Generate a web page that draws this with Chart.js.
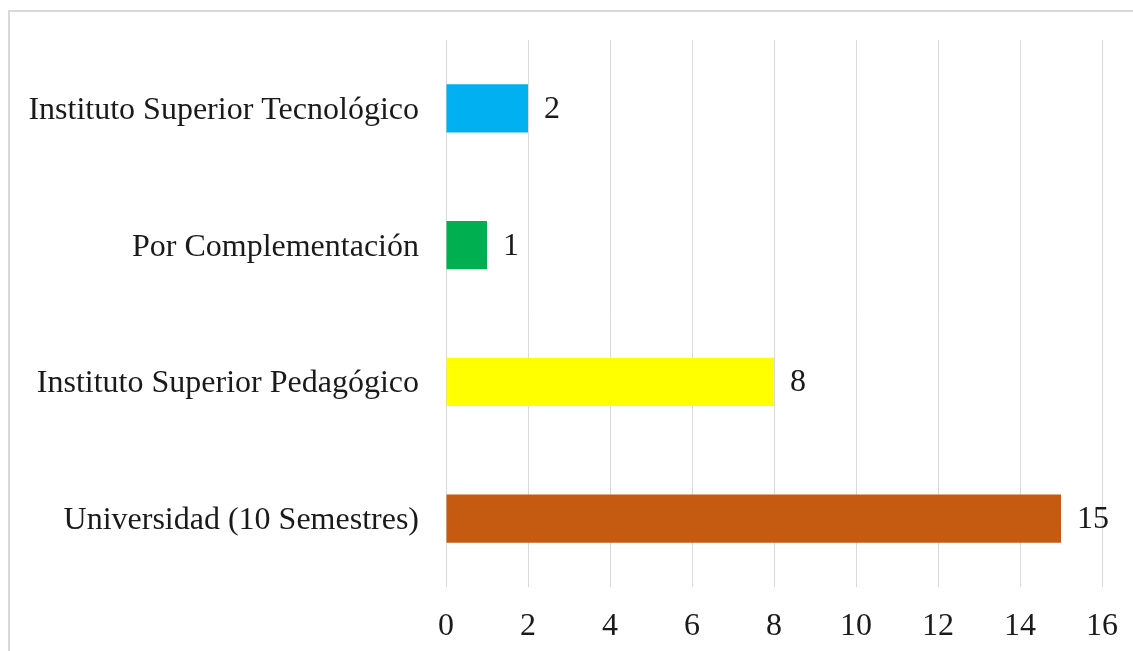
<!DOCTYPE html>
<html>
<head>
<meta charset="utf-8">
<script src="https://cdn.jsdelivr.net/npm/chart.js@4.4.0/dist/chart.umd.min.js"></script>
<style>
  html, body { margin: 0; padding: 0; background: #ffffff; overflow: hidden; }
  #wrap { position: relative; width: 1133px; height: 651px; }
  #frame { position: absolute; left: 8px; top: 10px; width: 1200px; height: 800px; border: 2px solid #d9d9d9; box-sizing: border-box; }
  #c { position: absolute; left: 0; top: 0; }
</style>
</head>
<body>
<div id="wrap">
  <div id="frame"></div>
  <canvas id="c" width="1133" height="651"></canvas>
</div>
<script>
const categories = ["Instituto Superior Tecnológico", "Por Complementación", "Instituto Superior Pedagógico", "Universidad (10 Semestres)"];
const values = [2, 1, 8, 15];
const barColors = ["#00B0F0", "#00B050", "#FFFF00", "#C55A11"];
const xTicks = [0, 2, 4, 6, 8, 10, 12, 14, 16];

const FONT = "'Liberation Serif', 'Times New Roman', serif";
const FSIZE = 32;

const valueLabels = {
  id: 'valueLabels',
  afterDatasetsDraw(chart) {
    const ctx = chart.ctx;
    const meta = chart.getDatasetMeta(0);
    ctx.save();
    ctx.font = FSIZE + "px " + FONT;
    ctx.fillStyle = "#1a1a1a";
    ctx.textAlign = "left";
    ctx.textBaseline = "middle";
    meta.data.forEach((bar, i) => {
      ctx.fillText(String(values[i]), bar.x + 16, bar.y + 1);
    });
    ctx.restore();
  }
};

new Chart(document.getElementById('c'), {
  type: 'bar',
  data: {
    labels: categories,
    datasets: [{
      data: values,
      backgroundColor: barColors,
      borderWidth: 0,
      categoryPercentage: 1.0,
      barPercentage: 0.352
    }]
  },
  options: {
    indexAxis: 'y',
    responsive: false,
    maintainAspectRatio: false,
    animation: false,
    devicePixelRatio: 1,
    layout: { padding: { top: 40, right: 31, left: 0, bottom: 0 } },
    plugins: { legend: { display: false }, tooltip: { enabled: false } },
    scales: {
      x: {
        min: 0, max: 16,
        afterBuildTicks(scale) { scale.ticks = xTicks.map(v => ({ value: v })); },
        afterFit(scale) { scale.height = 651 - 587; scale.paddingLeft = 0; scale.paddingRight = 0; },
        grid: { color: "#d9d9d9", lineWidth: 1, drawTicks: false },
        border: { display: false },
        ticks: { padding: 20, color: "#1a1a1a", font: { family: FONT, size: FSIZE } }
      },
      y: {
        afterFit(scale) { scale.width = 446; scale.paddingTop = 0; scale.paddingBottom = 0; },
        grid: { display: false, drawTicks: false },
        border: { display: false },
        ticks: { padding: 27, labelOffset: 2, color: "#1a1a1a", font: { family: FONT, size: FSIZE } }
      }
    }
  },
  plugins: [valueLabels]
});
</script>
</body>
</html>
